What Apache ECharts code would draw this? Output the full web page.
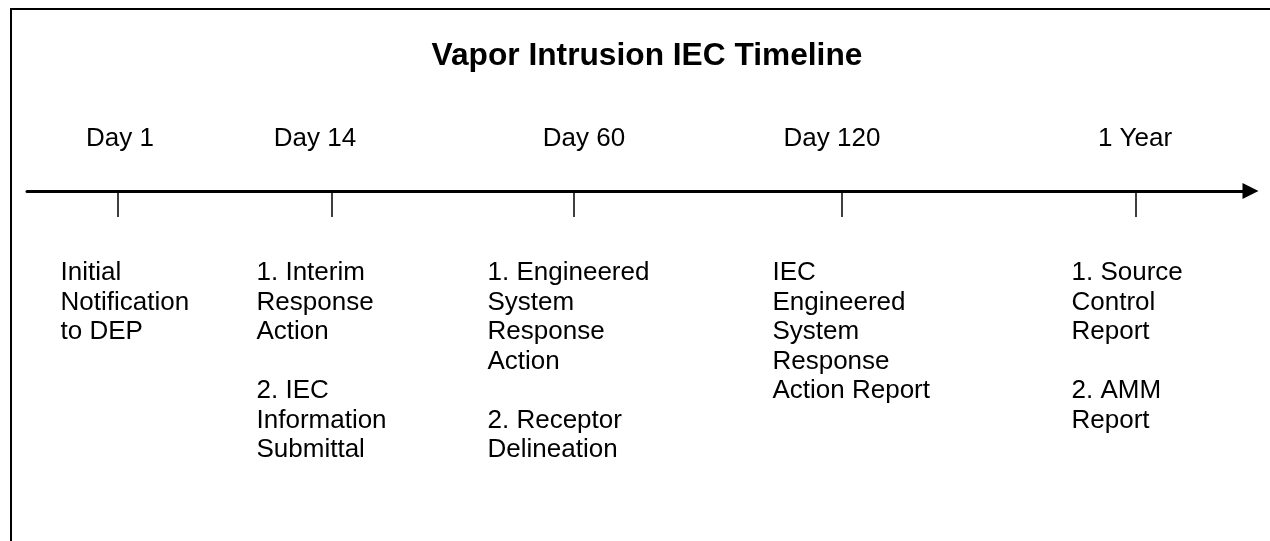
<!DOCTYPE html>
<html>
<head>
<meta charset="utf-8">
<script src="https://cdn.jsdelivr.net/npm/echarts@6/dist/echarts.min.js"></script>
<style>
  html, body { margin: 0; padding: 0; background: #fff; }
  #main { width: 1270px; height: 541px; }
</style>
</head>
<body>
<div id="main"></div>
<script>
// timeline data (x in axis units 0..100 along the arrow)
var milestones = ['Day 1', 'Day 14', 'Day 60', 'Day 120', '1 Year'];
var tickPos = [7.44, 24.93, 44.71, 66.61, 90.64];
var labelPos = [7.60, 23.54, 45.52, 65.79, 90.56];
var notePos = [2.78, 18.80, 37.68, 60.97, 85.41];
// depth of each note below the arrow (px units of the y axis)
var noteDepth = [68, 68, 68, 68, 68];
var notes = [
  'Initial\nNotification\nto DEP',
  '1. Interim\nResponse\nAction\n\n2. IEC\nInformation\nSubmittal',
  '1. Engineered\nSystem\nResponse\nAction\n\n2. Receptor\nDelineation',
  'IEC\nEngineered\nSystem\nResponse\nAction Report',
  '1. Source\nControl\nReport\n\n2. AMM\nReport'
];

var font = 'Arial, "Liberation Sans", sans-serif';
var chart = echarts.init(document.getElementById('main'));

var noteData = notes.map(function (t, i) {
  return { value: [notePos[i], noteDepth[i]], text: t };
});

chart.setOption({
  animation: false,
  title: {
    text: 'Vapor Intrusion IEC Timeline',
    left: 642,
    top: 35,
    textAlign: 'center',
    textStyle: { fontFamily: font, fontSize: 31.7, fontWeight: 'bold', color: '#000' }
  },
  grid: { left: 27, right: 19.5, top: 191, bottom: 0 },
  xAxis: {
    type: 'value',
    position: 'top',
    min: 0,
    max: 100,
    splitLine: { show: false },
    axisLine: {
      show: true,
      symbol: ['none', 'triangle'],
      symbolSize: [16, 16],
      lineStyle: { color: '#000', width: 3 }
    },
    axisTick: {
      show: true,
      inside: true,
      length: 26,
      customValues: tickPos,
      lineStyle: { color: '#000', width: 1.5 }
    },
    axisLabel: {
      show: true,
      margin: 39,
      customValues: labelPos,
      formatter: function (v) {
        var i = labelPos.indexOf(v);
        return i >= 0 ? milestones[i] : '';
      },
      fontFamily: font,
      fontSize: 26,
      color: '#000'
    }
  },
  yAxis: {
    type: 'value',
    inverse: true,
    min: 0,
    max: 350,
    show: false
  },
  series: [{
    type: 'scatter',
    symbolSize: 1,
    itemStyle: { color: 'rgba(0,0,0,0)' },
    clip: false,
    silent: true,
    data: noteData,
    label: {
      show: true,
      position: [0, 0],
      align: 'left',
      verticalAlign: 'top',
      formatter: function (p) { return p.data.text; },
      fontFamily: font,
      fontSize: 26,
      lineHeight: 29.5,
      color: '#000',
      opacity: 1,
      textBorderWidth: 0
    }
  }],
  graphic: [{
    type: 'polyline',
    shape: { points: [[11, 541], [11, 9], [1270, 9]] },
    style: { stroke: '#000', lineWidth: 2, fill: null }
  }]
});
</script>
</body>
</html>
